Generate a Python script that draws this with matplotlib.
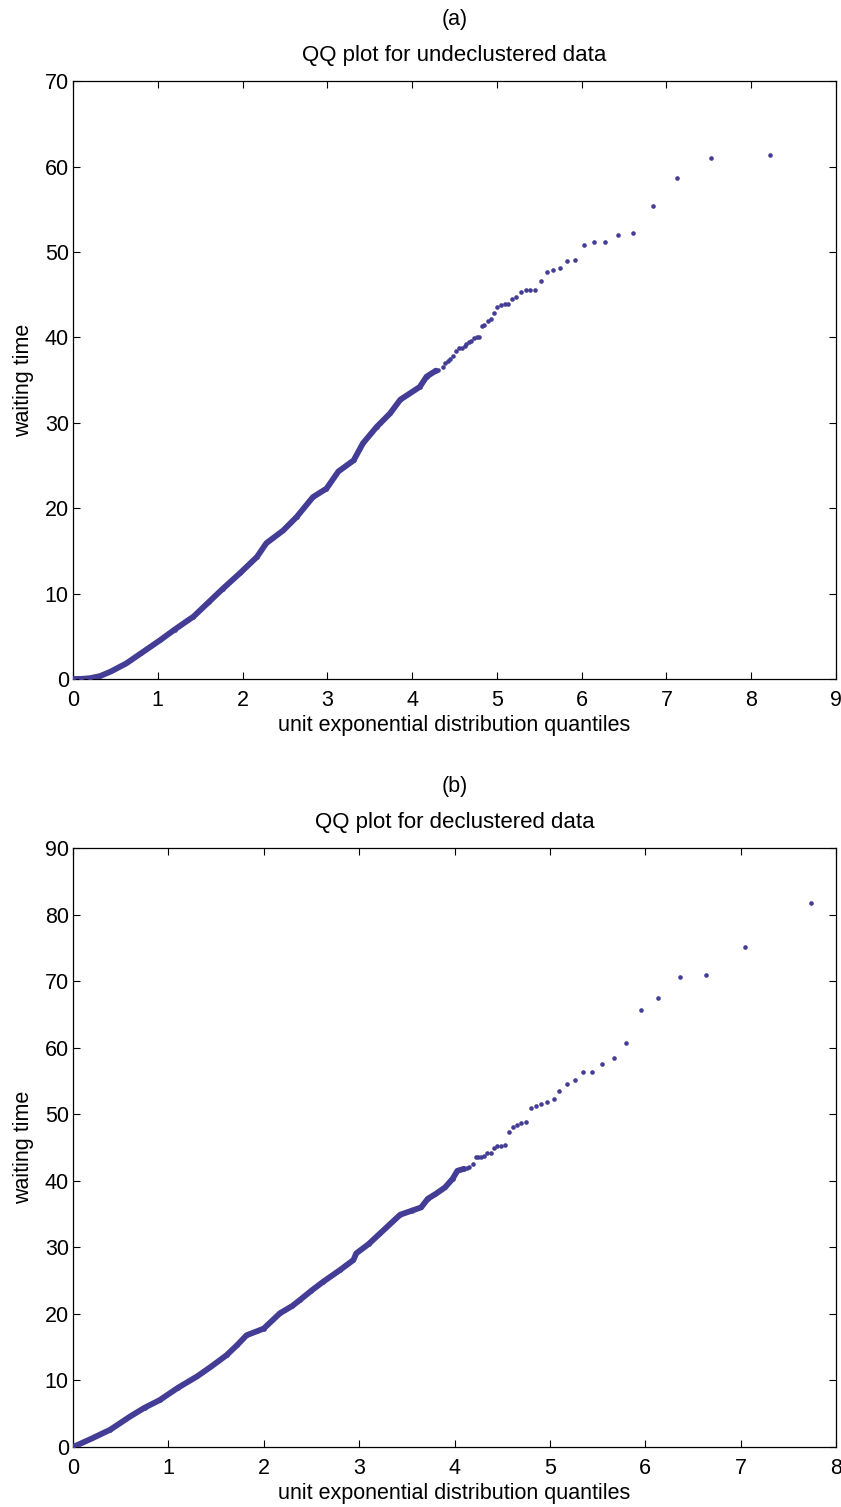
import numpy as np
import matplotlib.pyplot as plt

plt.rcParams['font.family'] = ['Liberation Sans', 'DejaVu Sans']

# (a) undeclustered: dense body, sparse upper tail point by point
top_body_q = [0.0, 0.1, 0.2, 0.32, 0.45, 0.63, 0.8, 1.03, 1.2, 1.36, 1.42, 1.6, 1.77,
              1.97, 2.17, 2.28, 2.48, 2.64, 2.83, 2.99, 3.13, 3.31, 3.42, 3.58, 3.74,
              3.86, 4.09, 4.17, 4.28]
top_body_wt = [0.0, 0.02, 0.1, 0.35, 0.9, 1.84, 3.0, 4.57, 5.8, 6.9, 7.3, 9.0, 10.6,
               12.4, 14.3, 15.9, 17.4, 19.0, 21.3, 22.3, 24.3, 25.6, 27.6, 29.5, 31.1,
               32.7, 34.2, 35.4, 36.1]
top_tail_q = [4.31, 4.36, 4.39, 4.42, 4.45, 4.48, 4.52, 4.55, 4.59, 4.62, 4.64, 4.67,
              4.70, 4.73, 4.76, 4.79, 4.82, 4.85, 4.89, 4.93, 4.97, 5.00, 5.05, 5.09,
              5.13, 5.18, 5.23, 5.28, 5.34, 5.39, 5.45, 5.52, 5.59, 5.66, 5.74, 5.83,
              5.92, 6.03, 6.14, 6.28, 6.43, 6.61, 6.84, 7.12, 7.53, 8.22]
top_tail_wt = [36.2, 36.5, 37.0, 37.2, 37.5, 37.8, 38.4, 38.8, 38.8, 39.0, 39.2, 39.5,
               39.6, 39.9, 40.0, 40.0, 41.3, 41.4, 41.9, 42.2, 42.8, 43.6, 43.8, 43.9,
               43.9, 44.5, 44.7, 45.3, 45.5, 45.5, 45.6, 46.6, 47.7, 47.9, 48.1, 48.9,
               49.1, 50.8, 51.2, 51.2, 52.0, 52.2, 55.4, 58.7, 61.0, 61.4]

# (b) declustered
bot_body_q = [0.0, 0.2, 0.39, 0.6, 0.75, 0.91, 1.1, 1.30, 1.45, 1.61, 1.72, 1.82, 1.93,
              2.0, 2.17, 2.3, 2.38, 2.5, 2.62, 2.80, 2.94, 2.97, 3.1, 3.22, 3.43, 3.55,
              3.65, 3.72, 3.8, 3.9, 3.98, 4.03, 4.10]
bot_body_wt = [0.0, 1.3, 2.6, 4.6, 5.9, 7.06, 8.9, 10.6, 12.1, 13.8, 15.3, 16.8, 17.4,
               17.8, 20.1, 21.2, 22.1, 23.5, 24.8, 26.6, 28.1, 29.1, 30.5, 32.1, 34.9,
               35.5, 36.0, 37.3, 38.0, 39.0, 40.3, 41.5, 41.8]
bot_tail_q = [4.13, 4.15, 4.19, 4.22, 4.25, 4.28, 4.31, 4.34, 4.38, 4.41, 4.45, 4.49,
              4.53, 4.57, 4.61, 4.65, 4.70, 4.75, 4.80, 4.85, 4.91, 4.97, 5.04, 5.10,
              5.18, 5.26, 5.35, 5.44, 5.55, 5.67, 5.80, 5.95, 6.13, 6.36, 6.64, 7.05,
              7.74]
bot_tail_wt = [41.9, 42.0, 42.5, 43.6, 43.6, 43.6, 43.7, 44.1, 44.2, 45.0, 45.3, 45.3,
               45.4, 47.4, 48.1, 48.4, 48.7, 48.8, 50.9, 51.2, 51.5, 51.9, 52.3, 53.5,
               54.6, 55.1, 56.3, 56.4, 57.5, 58.4, 60.7, 65.6, 67.4, 70.6, 70.9, 75.1,
               81.7]

dot_color = '#433d96'
fs = 15.5

fig = plt.figure(figsize=(8.41, 15.07), dpi=100)
ax_a = fig.add_axes([0.0868, 0.5494, 0.9073, 0.3968])
ax_b = fig.add_axes([0.0868, 0.0398, 0.9073, 0.3975])

panels = [
    (ax_a, top_body_q, top_body_wt, top_tail_q, top_tail_wt, 9, 70,
     '(a)', 'QQ plot for undeclustered data'),
    (ax_b, bot_body_q, bot_body_wt, bot_tail_q, bot_tail_wt, 8, 90,
     '(b)', 'QQ plot for declustered data'),
]

for ax, bq, bw, tq, tw, xmax, ymax, tag, title in panels:
    # dense part of the sample looks like a thick band
    ax.plot(bq, bw, '-', color=dot_color, lw=4.2, solid_capstyle='round', zorder=3)
    ax.plot(bq, bw, 'o', color=dot_color, ms=3.3, mew=0, zorder=3)
    ax.plot(tq, tw, 'o', color=dot_color, ms=3.3, mew=0, zorder=3)

    ax.set_xlim(0, xmax)
    ax.set_ylim(0, ymax)
    ax.set_xticks(np.arange(0, xmax + 1, 1))
    ax.set_yticks(np.arange(0, ymax + 1, 10))
    ax.tick_params(axis='x', pad=8)
    ax.tick_params(axis='y', pad=3)
    ax.tick_params(direction='in', top=True, right=True, length=5, width=0.8,
                   labelsize=fs)
    for s in ax.spines.values():
        s.set_linewidth(0.9)
    ax.set_xlabel('unit exponential distribution quantiles', fontsize=fs, labelpad=3)
    ax.set_ylabel('waiting time', fontsize=fs, labelpad=8)
    ax.set_title(title, fontsize=16, pad=14.5)
    ax.text(0.5, 1.103, tag, transform=ax.transAxes, ha='center', va='center',
            fontsize=fs)

fig.savefig('out.png', dpi=100)
